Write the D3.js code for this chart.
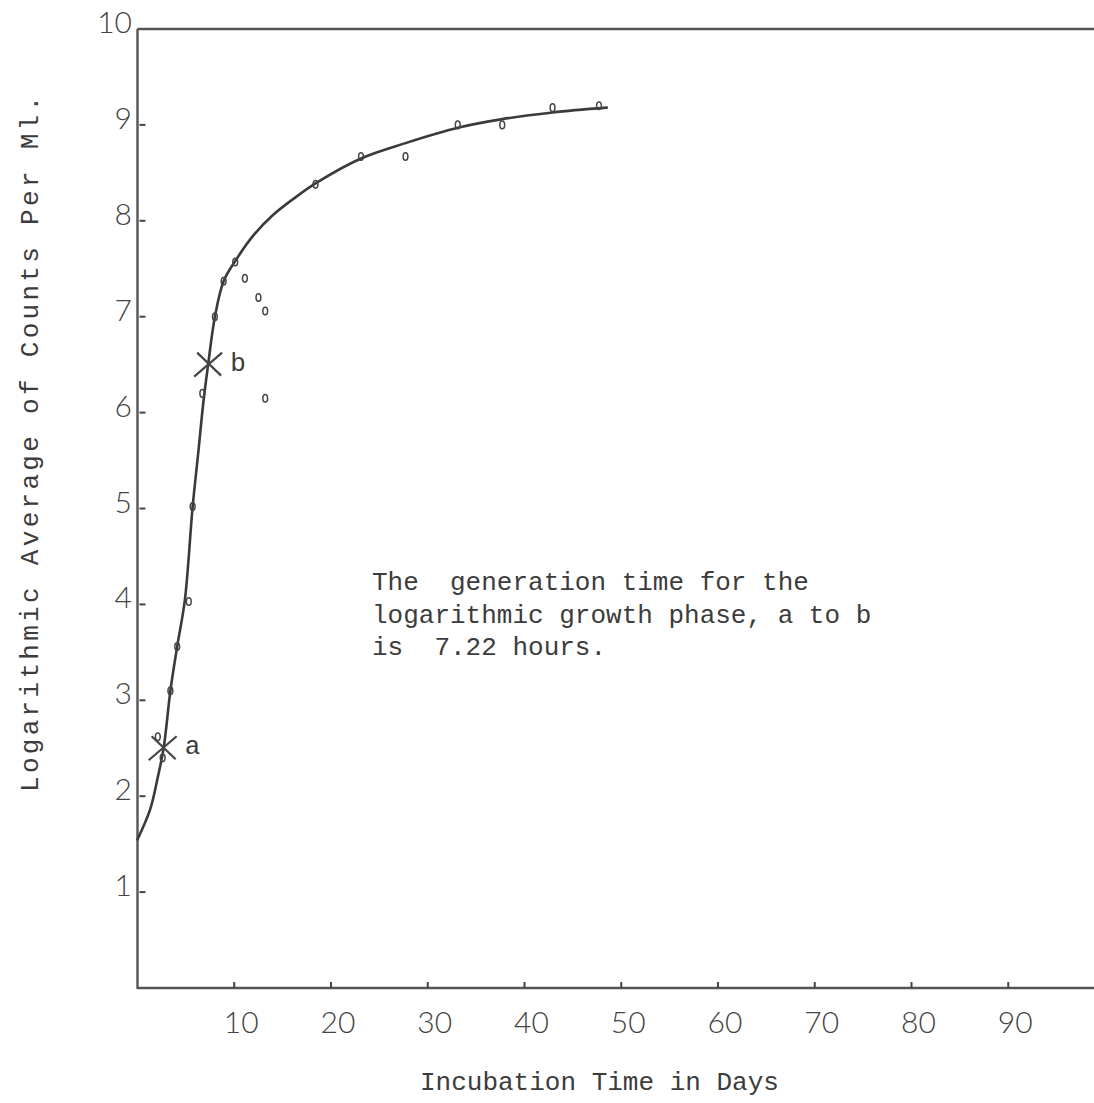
<!DOCTYPE html>
<html>
<head>
<meta charset="utf-8">
<script src="https://cdn.jsdelivr.net/npm/d3@7"></script>
<style>
  body { margin: 0; background: #fff; }
  svg { display: block; }
  .typed { font-family: 'Liberation Mono', 'DejaVu Sans Mono', monospace; fill: #3c3c3c; white-space: pre; }
  .tick-label { font-family: Lato, 'Open Sans', sans-serif; font-weight: 300; fill: #444; }
</style>
</head>
<body>
<div class="canvas"></div>
<script>
// smoothed growth curve (days, log count)
const curveDays = [0, 1.3, 2.1, 2.7, 3.4, 4.1, 4.9, 5.7, 6.3, 6.8, 7.3, 8.0, 8.9, 10.1, 12, 14, 16, 18.4, 23.1, 27.7, 33.1, 37.7, 42.9, 48.5];
const curveValues = [1.55, 1.86, 2.2, 2.5, 3.1, 3.56, 4.05, 5.02, 5.6, 6.1, 6.5, 7.0, 7.37, 7.58, 7.85, 8.06, 8.22, 8.39, 8.65, 8.81, 8.97, 9.06, 9.13, 9.18];

// plotted observations
const obsDays = [2.1, 2.6, 3.4, 4.1, 5.3, 5.7, 6.7, 8.0, 8.9, 10.1, 11.1, 12.5, 13.2, 13.2, 18.4, 23.1, 27.7, 33.1, 37.7, 42.9, 47.7];
const obsValues = [2.62, 2.4, 3.1, 3.56, 4.03, 5.02, 6.2, 7.0, 7.37, 7.57, 7.4, 7.2, 7.06, 6.15, 8.38, 8.67, 8.67, 9.0, 9.0, 9.18, 9.2];

// ends of the logarithmic phase
const phaseLabels = ['a', 'b'];
const phaseDays = [2.6, 7.3];
const phaseValues = [2.5, 6.5];

const xTicks = [10, 20, 30, 40, 50, 60, 70, 80, 90];
const yTicks = [1, 2, 3, 4, 5, 6, 7, 8, 9, 10];

const note = [
  'The  generation time for the',
  'logarithmic growth phase, a to b',
  'is  7.22 hours.'
];

const width = 1094, height = 1103;
const x = d3.scaleLinear().domain([0, 100]).range([137.5, 1105]);
const y = d3.scaleLinear().domain([0, 10]).range([988, 29]);

const svg = d3.select('.canvas').append('svg')
  .attr('width', width)
  .attr('height', height);

const ink = '#555';

// frame: left axis, top rule, bottom axis
svg.append('line')
  .attr('x1', x(0)).attr('x2', x(0))
  .attr('y1', y(10)).attr('y2', y(0) + 1)
  .attr('stroke', ink).attr('stroke-width', 2.4);
svg.append('line')
  .attr('x1', x(0)).attr('x2', width)
  .attr('y1', y(10)).attr('y2', y(10))
  .attr('stroke', ink).attr('stroke-width', 2.4);
svg.append('line')
  .attr('x1', x(0)).attr('x2', width)
  .attr('y1', y(0)).attr('y2', y(0))
  .attr('stroke', ink).attr('stroke-width', 2.4);

// y ticks + labels
const yg = svg.append('g');
yg.selectAll('line').data(yTicks.filter(d => d < 10)).join('line')
  .attr('x1', x(0) + 2).attr('x2', x(0) + 8)
  .attr('y1', d => y(d)).attr('y2', d => y(d))
  .attr('stroke', '#444').attr('stroke-width', 2);
yg.selectAll('text').data(yTicks).join('text')
  .attr('class', 'tick-label')
  .attr('x', 132)
  .attr('y', d => y(d) + 4)
  .attr('text-anchor', 'end')
  .attr('font-size', 30)
  .text(d => d);

// x ticks + labels
const xg = svg.append('g');
xg.selectAll('line').data(xTicks).join('line')
  .attr('x1', d => x(d)).attr('x2', d => x(d))
  .attr('y1', y(0) - 6).attr('y2', y(0))
  .attr('stroke', '#444').attr('stroke-width', 2);
xg.selectAll('text').data(xTicks).join('text')
  .attr('class', 'tick-label')
  .attr('x', d => x(d) + 7)
  .attr('y', 1033)
  .attr('text-anchor', 'middle')
  .attr('font-size', 30)
  .text(d => d);

// axis titles
svg.append('text')
  .attr('class', 'typed')
  .attr('x', 420).attr('y', 1090)
  .attr('font-size', 26)
  .text('Incubation Time in Days');

svg.append('text')
  .attr('class', 'typed')
  .attr('transform', 'translate(38, 792) rotate(-90)')
  .attr('font-size', 26)
  .attr('letter-spacing', 3.3)
  .text('Logarithmic Average of Counts Per Ml.');

// growth curve
const line = d3.line()
  .x(d => x(d[0]))
  .y(d => y(d[1]))
  .curve(d3.curveCatmullRom.alpha(0.5));

svg.append('path')
  .datum(curveDays.map((d, i) => [d, curveValues[i]]))
  .attr('d', line)
  .attr('fill', 'none')
  .attr('stroke', '#3a3a3a')
  .attr('stroke-width', 2.6)
  .attr('stroke-linecap', 'round');

// observation marks (small typed ovals)
svg.append('g').selectAll('ellipse')
  .data(obsDays.map((d, i) => [d, obsValues[i]]))
  .join('ellipse')
  .attr('cx', d => x(d[0]))
  .attr('cy', d => y(d[1]))
  .attr('rx', 2.4).attr('ry', 3.8)
  .attr('fill', 'none')
  .attr('stroke', '#444')
  .attr('stroke-width', 1.5);

// a / b crosses
const phase = svg.append('g').selectAll('g')
  .data(phaseLabels.map((l, i) => ({ l, d: phaseDays[i], v: phaseValues[i] })))
  .join('g')
  .attr('transform', d => `translate(${x(d.d)}, ${y(d.v)})`);

phase.append('path')
  .attr('d', 'M-14,12L14,-12M-11,-12L13,11')
  .attr('stroke', '#444')
  .attr('stroke-width', 2.2)
  .attr('fill', 'none');

phase.append('text')
  .attr('class', 'typed')
  .attr('x', 22).attr('y', 6)
  .attr('font-size', 26)
  .text(d => d.l);

// annotation
svg.append('g').selectAll('text').data(note).join('text')
  .attr('class', 'typed')
  .attr('x', 372)
  .attr('y', (d, i) => 590 + i * 32.5)
  .attr('font-size', 26)
  .text(d => d);
</script>
</body>
</html>
